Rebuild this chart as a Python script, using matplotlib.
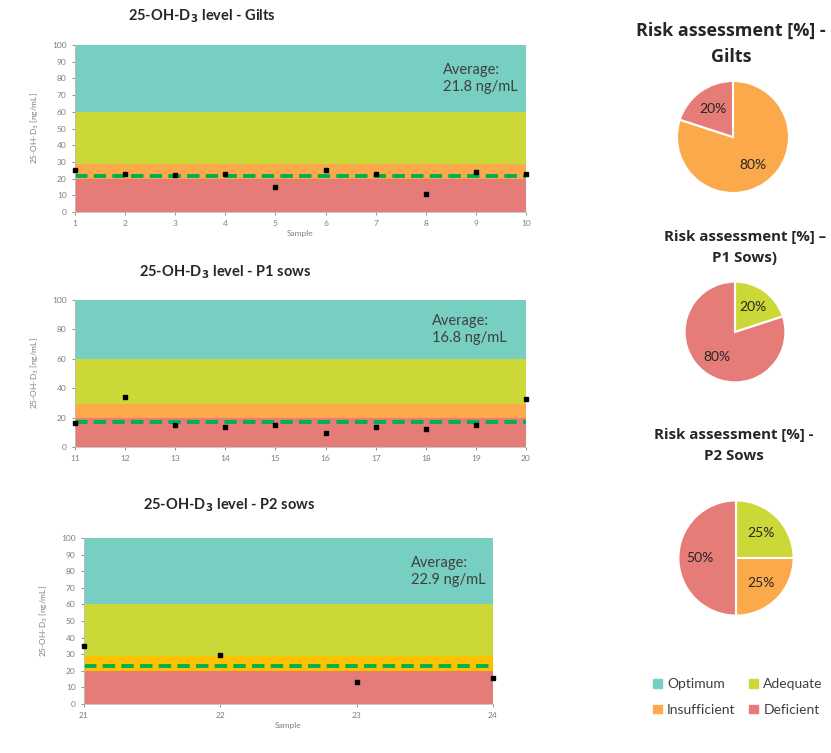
import matplotlib
matplotlib.use("Agg")
import matplotlib.pyplot as plt
from matplotlib.patches import Patch

plt.rcParams['font.family'] = ['Lato', 'DejaVu Sans']

# Sample measurements (ng/mL)
gilts_samples = list(range(1, 11))
gilts_values = [25, 23, 22, 23, 15, 25, 23, 10.5, 24, 23]
gilts_average = 21.8

p1_samples = list(range(11, 21))
p1_values = [16, 34, 15, 13.5, 15, 9.5, 13.5, 12, 15, 32.5]
p1_average = 16.8

p2_samples = list(range(21, 25))
p2_values = [35, 29.5, 13.5, 15.5]
p2_average = 22.9

# Risk category bands (ng/mL)
band_names = ["Deficient", "Insufficient", "Adequate", "Optimum"]
band_limits = [(0, 20), (20, 29), (29, 60), (60, 100)]

# Risk assessment shares [%], order: Optimum, Adequate, Insufficient, Deficient
risk_labels = ["Optimum", "Adequate", "Insufficient", "Deficient"]
risk_gilts = [0, 0, 80, 20]
risk_p1 = [0, 20, 0, 80]
risk_p2 = [0, 25, 25, 50]

C_OPT = "#76CFC0"
C_ADE = "#CBD838"
C_INS = "#FBA94B"
C_DEF = "#E57C78"
C_INS_P2 = "#FFC000"
GREEN = "#00B050"
GREY = "#7F7F7F"

W, H = 831.0, 753.0
fig = plt.figure(figsize=(W / 100, H / 100), dpi=100)


def rect_px(x0, x1, y0, y1):
    return [x0 / W, 1 - y1 / H, (x1 - x0) / W, (y1 - y0) / H]


def level_panel(box, samples, values, avg, title, yticks, ins_color,
                title_xy, avg_x):
    ax = fig.add_axes(rect_px(*box))
    colors = {"Deficient": C_DEF, "Insufficient": ins_color,
              "Adequate": C_ADE, "Optimum": C_OPT}
    for name, (lo, hi) in zip(band_names, band_limits):
        ax.axhspan(lo, hi, color=colors[name], lw=0, zorder=0)
    ax.axhline(avg, color=GREEN, lw=2.8, ls=(0, (3.2, 1.6)), zorder=2)
    ax.plot(samples, values, ls="none", marker="s", ms=2.4, color="black",
            zorder=3, clip_on=False)
    ax.set_xlim(samples[0], samples[-1])
    ax.set_ylim(0, 100)
    ax.set_xticks(samples)
    ax.set_yticks(yticks)
    ax.tick_params(labelsize=6, colors=GREY, length=2, width=0.6, pad=4)
    for s in ["top", "right"]:
        ax.spines[s].set_visible(False)
    for s in ["left", "bottom"]:
        ax.spines[s].set_color("#BFBFBF")
        ax.spines[s].set_linewidth(0.6)
    ax.set_ylabel(r"25-OH-D$_3$ [ng/mL]", fontsize=6, color=GREY, labelpad=8)
    ax.set_xlabel("Sample", fontsize=6, color=GREY, labelpad=2)
    x0, x1, y0, y1 = box
    ax.text((avg_x - x0) / (x1 - x0), 0.80, f"Average:\n{avg} ng/mL",
            transform=ax.transAxes, ha="left", va="center", fontsize=10.5,
            color="#404040", linespacing=1.25)
    fig.text(title_xy[0] / W, 1 - title_xy[1] / H, title, ha="center",
             va="center", fontsize=10.5, fontweight="bold", color="#262626")
    return ax


level_panel((75, 526, 45, 212), gilts_samples, gilts_values, gilts_average,
            r"25-OH-D$_\mathbf{3}$ level - Gilts", range(0, 101, 10), C_INS,
            (202, 16), 443)
ax2 = level_panel((75, 526, 300, 447), p1_samples, p1_values, p1_average,
                  r"25-OH-D$_\mathbf{3}$ level - P1 sows", range(0, 101, 20), C_INS,
                  (225, 272), 432)
ax2.set_xlabel("")
level_panel((84, 493, 538, 704), p2_samples, p2_values, p2_average,
            r"25-OH-D$_\mathbf{3}$ level - P2 sows", range(0, 101, 10), C_INS_P2,
            (229, 505), 411)

pie_colors = [C_OPT, C_ADE, C_INS, C_DEF]


def pie_panel(cx, cy, r, shares, title_lines, title_x, title_y, line_gap, title_size):
    ax = fig.add_axes([(cx - r) / W, 1 - (cy + r) / H, 2 * r / W, 2 * r / H])
    vals, cols = [], []
    for v, c in zip(shares, pie_colors):
        if v > 0:
            vals.append(v)
            cols.append(c)
    ax.pie(vals, colors=cols, startangle=90, counterclock=False,
           autopct="%d%%", pctdistance=0.62,
           wedgeprops=dict(edgecolor="white", linewidth=1.5),
           textprops=dict(fontsize=10, color="#262626"))
    ax.set_aspect("equal")
    for i, line in enumerate(title_lines):
        fig.text(title_x / W, 1 - (title_y + i * line_gap) / H, line, ha="center",
                 va="center", fontsize=title_size, fontweight="bold",
                 family=["Open Sans", "DejaVu Sans"], color="#262626")
    return ax


pie_panel(733, 137, 70, risk_gilts, ["Risk assessment [%] -", "Gilts"],
          731, 31, 26, 13)
pie_panel(735, 332, 63, risk_p1, ["Risk assessment [%] \u2013", "P1 Sows)"],
          745, 237, 21, 10.8)
pie_panel(736, 558, 72, risk_p2, ["Risk assessment [%] -", "P2 Sows"],
          734, 435, 21, 10.8)

# legend filled column by column: Optimum/Insufficient, Adequate/Deficient
legend_order = [0, 2, 1, 3]
handles = [Patch(color=pie_colors[i], label=risk_labels[i]) for i in legend_order]
fig.legend(handles=handles, ncol=2, loc="center", bbox_to_anchor=(738 / W, 1 - 697 / H),
           frameon=False, fontsize=10, handlelength=0.6, handleheight=0.6,
           handletextpad=0.4, columnspacing=1.0, labelspacing=1.0,
           labelcolor="#404040")

fig.savefig("out.png", dpi=100)
